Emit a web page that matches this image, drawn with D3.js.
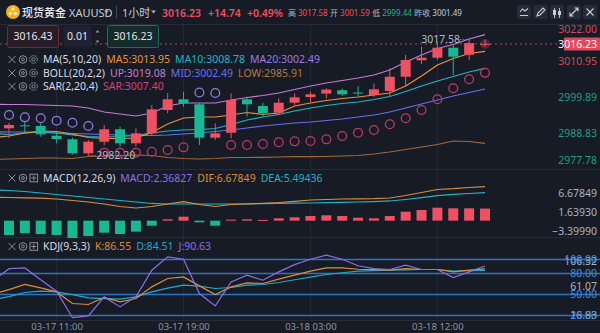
<!DOCTYPE html>
<html><head><meta charset="utf-8">
<script src="https://cdn.jsdelivr.net/npm/d3@7"></script>
<style>
body{margin:0;background:#171b26;overflow:hidden}
svg{display:block}
text{font-family:"Noto Sans","Noto Sans CJK SC",sans-serif}
</style></head>
<body><svg id="c" width="600" height="333"></svg>
<script>
// ---------- DATA ----------
const times = ["03-17 07:00","03-17 08:00","03-17 09:00","03-17 10:00","03-17 11:00","03-17 12:00","03-17 13:00","03-17 14:00","03-17 15:00","03-17 16:00","03-17 17:00","03-17 18:00","03-17 19:00","03-17 20:00","03-17 21:00","03-17 22:00","03-17 23:00","03-18 00:00","03-18 01:00","03-18 02:00","03-18 03:00","03-18 04:00","03-18 06:00","03-18 07:00","03-18 08:00","03-18 09:00","03-18 10:00","03-18 11:00","03-18 12:00","03-18 13:00","03-18 14:00","03-18 15:00"];
const open  = [2990.2,2990.50,2991.40,2991.20,2988.24,2987.14,2982.87,2986.41,2990.19,2985.92,2988.97,2996.08,2999.34,2997.82,2987.63,2989.15,2999.34,2997.30,2995.25,2998.30,3000.04,3001.08,3002.09,3001.40,3000.64,3001.87,3006.23,3011.23,3012.03,3015.08,3012.94,3016.10];
const high  = [2992.3,2992.11,2992.80,2992.02,2989.46,2987.60,2986.93,2991.50,2990.99,2990.50,2997.60,3001.17,3001.66,2998.12,2992.02,3001.17,3000.13,2998.30,2999.64,3001.17,3001.66,3002.70,3002.60,3003.40,3004.19,3008.80,3012.85,3015.38,3016.90,3015.90,3017.58,3017.50];
const low   = [2989.0,2987.54,2989.00,2987.94,2985.92,2982.50,2982.20,2985.40,2984.89,2984.89,2988.45,2995.07,2997.08,2985.40,2986.93,2987.45,2994.04,2994.04,2994.55,2997.60,2998.43,2999.64,3000.40,3000.13,3000.13,3000.13,3003.18,3010.00,3011.40,3006.75,3011.33,3015.40];
const close = [2990.9,2991.50,2991.10,2988.67,2987.23,2982.87,2986.41,2990.19,2985.92,2988.97,2996.29,2999.34,2998.12,2987.63,2988.97,2999.13,2997.82,2995.07,2998.30,2999.95,3000.86,3002.30,3000.87,3001.20,3002.39,3006.23,3011.33,3012.03,3015.08,3012.33,3016.51,3016.23];
const ma5   = [2987.7,2988.15,2989.07,2989.68,2989.52,2988.76,2987.69,2987.39,2987.39,2987.54,2989.22,2991.81,2993.64,2993.95,2993.95,2994.56,2995.32,2994.71,2995.17,2997.30,2998.21,2998.98,2999.59,3000.05,3000.66,3001.27,3003.40,3006.45,3009.81,3011.79,3013.31,3013.95];
const ma10  = [2988.9,2988.61,2989.07,2989.37,2989.07,2988.46,2988.00,2987.85,2988.00,2988.30,2989.07,2989.68,2989.98,2990.13,2990.44,2991.66,2993.03,2993.95,2994.71,2995.78,2996.69,2997.45,2998.06,2998.52,2999.28,3000.20,3001.72,3003.40,3004.93,3006.30,3007.67,3008.78];
const bollUp  = [2997.8,2997.76,2997.76,2997.60,2997.45,2997.30,2996.69,2995.47,2994.86,2994.25,2995.16,2997.30,2998.21,2998.21,2998.21,2999.13,2999.89,3000.50,3001.26,3002.33,3003.40,3004.31,3005.08,3005.84,3006.75,3008.28,3010.72,3012.85,3014.84,3016.05,3017.73,3019.08];
const bollMid = [2989.4,2989.37,2989.37,2989.22,2989.07,2988.91,2988.76,2988.61,2988.46,2988.30,2988.30,2988.46,2988.76,2989.07,2989.52,2989.98,2990.59,2991.20,2991.66,2992.12,2992.42,2992.88,2993.34,2993.95,2994.56,2995.47,2996.69,2997.91,2999.13,3000.35,3001.42,3002.49];
const bollLow = [2981.0,2981.14,2981.29,2981.44,2981.44,2981.29,2981.90,2982.05,2982.20,2982.36,2982.20,2981.59,2981.29,2981.14,2981.29,2981.59,2981.59,2981.65,2981.75,2981.84,2981.84,2981.90,2982.05,2982.20,2982.66,2983.27,2984.03,2984.80,2985.56,2986.63,2986.47,2985.91];
const sar   = [2995.2,2994.55,2993.85,2993.55,2992.82,2992.20,2991.20,2983.06,2983.06,2983.06,2983.36,2983.88,2984.70,3001.42,3001.26,2985.40,2985.40,2985.71,2986.23,2986.53,2986.62,2987.14,2988.15,2989.16,2989.98,2991.72,2993.55,2996.08,2999.34,3002.70,3005.44,3007.40];
const macdBar = [-2.6,-2.81,-2.48,-2.62,-2.81,-3.3999,-3.01,-2.36,-2.62,-2.16,-0.99,0.27,0.78,-0.32,-0.99,0.20,0.27,0.15,0.46,0.66,0.91,1.05,0.91,0.58,0.46,0.91,1.76,2.09,2.54,2.42,2.42,2.36827];
const dif   = [4.58,4.54,4.48,4.42,4.25,3.95,3.66,3.27,2.78,2.48,2.78,3.27,3.72,3.17,2.78,3.17,3.27,3.40,3.56,3.80,4.05,4.15,4.25,4.29,4.33,4.44,4.93,5.52,6.11,6.27,6.50,6.67849];
const dea   = [6.05,5.91,5.72,5.42,5.13,4.84,4.54,4.25,3.95,3.66,3.37,3.27,3.27,3.27,3.27,3.27,3.31,3.35,3.37,3.42,3.46,3.52,3.60,3.66,3.74,3.86,4.15,4.50,4.89,5.15,5.33,5.49436];
const kdjK  = [50.5,56.9,64.3,59.4,53.7,37.1,35.7,45.7,39.4,44.3,60.9,72.9,75.1,62.3,50.0,60.9,66.6,65.7,71.9,77.6,83.3,88.0,88.0,86.1,85.4,84.7,87.1,85.7,85.7,82.3,84.7,86.55];
const kdjD  = [42.5,46.9,52.9,54.7,53.7,49.7,45.1,44.0,43.3,46.6,53.7,59.0,63.3,61.9,58.6,60.0,63.3,64.3,67.1,71.1,74.7,78.6,81.1,83.3,84.0,84.7,85.1,85.7,85.7,83.3,84.0,84.51];
const kdjJ  = [70.0,86.9,88.0,71.1,54.7,16.83,19.4,46.6,32.3,46.6,84.7,103.7,100.4,51.4,33.7,68.0,77.6,70.4,82.3,92.6,100.4,106.32,100.4,91.1,87.1,85.7,91.9,85.7,85.7,74.3,82.3,90.63];
const priceTicks = [3022.00,3010.95,2999.89,2988.83,2977.78];
const macdTicks = [6.67849,1.63930,-3.39990];
const kdjTicks = [106.32,61.07,16.83];
const kdjLevels = [100,80,50,20];
const timeTicks = ["03-17 11:00","03-17 19:00","03-18 03:00","03-18 12:00"];
const lastPrice = 3016.23, prevClose = 3001.49;

// ---------- COLORS ----------
const BG="#171b26", RED="#ec5262", GREEN="#19b893", GRID="#242936";
const C_MA5="#e6943a", C_MA10="#24b3c6", C_MA20="#9a7ce6", C_UP="#c97bd6", C_MID="#6a6ef2", C_LOW="#a0683a";
const C_SAR_UP="#9479e0", C_SAR_DN="#c0386c", C_SAR_TXT="#d8407e";
const C_K="#d98e3e", C_D="#25a9c1", C_J="#8b6ee6", C_LVL="#2a74c6";

const svg = d3.select("#c");
svg.append("rect").attr("width",600).attr("height",333).attr("fill",BG);

// ---------- SCALES ----------
const x = d3.scalePoint().domain(times).range([-6.87, 485]);
const yMain = d3.scaleLinear().domain([2977.78, 3022.00]).range([170, 25]);
const yMacd = d3.scaleLinear().domain([-3.3999, 6.67849]).range([238, 186.6]);
const yKdj  = d3.scaleLinear().domain([20, 100]).range([315.5, 259.5]);
const clamp=(v,a,b)=>Math.max(a,Math.min(b,v));

const defs = svg.append("defs");
[["cm",0,25,560,145],["cmacd",0,170,560,68],["ckdj",0,238,600,82]].forEach(([id,x0,y0,w,h])=>{
  defs.append("clipPath").attr("id",id).append("rect").attr("x",x0).attr("y",y0).attr("width",w).attr("height",h);
});

// ---------- GRID / SEPARATORS ----------
const grid = svg.append("g");
timeTicks.forEach(t=>{
  grid.append("line").attr("x1",x(t)).attr("x2",x(t)).attr("y1",25).attr("y2",320).attr("stroke",GRID).attr("stroke-width",1);
});
[24.5,169.5,237.5,320.5].forEach(y=>{
  grid.append("line").attr("x1",0).attr("x2",600).attr("y1",y).attr("y2",y).attr("stroke","#262b38").attr("stroke-width",1);
});

// ---------- MAIN PANE ----------
const gm = svg.append("g").attr("clip-path","url(#cm)");
const lineMain = d3.line().x((d,i)=>x(times[i])).y(d=>yMain(d));
[[bollLow,C_LOW],[bollUp,C_UP],[bollMid,C_MID],[ma10,C_MA10],[ma5,C_MA5]].forEach(([arr,c])=>{
  gm.append("path").datum(arr).attr("d",lineMain).attr("fill","none").attr("stroke",c).attr("stroke-width",1.2);
});
gm.selectAll("circle.sar").data(sar).join("circle")
  .attr("cx",(d,i)=>x(times[i])).attr("cy",d=>yMain(d)).attr("r",4.4)
  .attr("fill","none").attr("stroke-width",1.3)
  .attr("stroke",(d,i)=> d>high[i]?C_SAR_UP:C_SAR_DN);
const cg = gm.selectAll("g.c").data(times).join("g");
cg.append("line").attr("x1",t=>x(t)).attr("x2",t=>x(t))
  .attr("y1",(t,i)=>yMain(high[i])).attr("y2",(t,i)=>yMain(low[i]))
  .attr("stroke",(t,i)=>close[i]>=open[i]?RED:GREEN).attr("stroke-width",1);
cg.append("rect").attr("x",t=>x(t)-5).attr("width",10)
  .attr("y",(t,i)=>yMain(Math.max(open[i],close[i])))
  .attr("height",(t,i)=>Math.max(1,Math.abs(yMain(open[i])-yMain(close[i]))))
  .attr("fill",(t,i)=>close[i]>=open[i]?RED:GREEN);

svg.append("line").attr("x1",0).attr("x2",564).attr("y1",yMain(lastPrice)).attr("y2",yMain(lastPrice))
  .attr("stroke","#c2404f").attr("stroke-width",1).attr("stroke-dasharray","2,3");
const li = times.length-1;
svg.append("circle").attr("cx",x(times[li])).attr("cy",yMain(lastPrice)).attr("r",5).attr("fill",RED).attr("opacity",0.25);

const hi = d3.maxIndex(high.slice(1))+1, lo = d3.minIndex(low.slice(1))+1;
svg.append("line").attr("x1",x(times[hi])-9).attr("x2",x(times[hi])-1).attr("y1",yMain(high[hi])).attr("y2",yMain(high[hi]))
  .attr("stroke","#9aa0ab").attr("stroke-dasharray","1,1.5");
svg.append("text").attr("x",x(times[hi])-9).attr("y",yMain(high[hi])+3.5).attr("text-anchor","end")
  .attr("font-size",10.5).attr("fill","#b4b8c2").text(high[hi].toFixed(2));
svg.append("line").attr("x1",x(times[lo])+1).attr("x2",x(times[lo])+8).attr("y1",yMain(low[lo])).attr("y2",yMain(low[lo]))
  .attr("stroke","#9aa0ab").attr("stroke-dasharray","1,1.5");
svg.append("text").attr("x",x(times[lo])+8).attr("y",yMain(low[lo])+3.5)
  .attr("font-size",10.5).attr("fill","#b4b8c2").text(low[lo].toFixed(2));

const pa = svg.append("g").attr("transform","translate(597,0)")
  .call(d3.axisRight(yMain).tickValues(priceTicks).tickSize(0).tickFormat(d3.format(".2f")));
pa.select(".domain").remove();
pa.selectAll(".tick").attr("transform",d=>`translate(0,${clamp(yMain(d),30,161)})`);
pa.selectAll("text").attr("x",0).attr("text-anchor","end").attr("font-size",10.5)
  .attr("font-family",null).attr("fill",d=>d>prevClose?"#cc4b58":"#1e9e80");
const ly = yMain(lastPrice);
svg.append("rect").attr("x",564).attr("y",ly-6.5).attr("width",36).attr("height",13).attr("fill","#e0485b").attr("rx",1);
svg.append("text").attr("x",597).attr("y",ly+3.8).attr("text-anchor","end").attr("font-size",10.5).attr("fill","#fff").text(lastPrice.toFixed(2));

// ---------- MACD PANE ----------
const gd = svg.append("g").attr("clip-path","url(#cmacd)");
gd.selectAll("rect").data(macdBar).join("rect")
  .attr("x",(d,i)=>x(times[i])-5).attr("width",10)
  .attr("y",d=>Math.min(yMacd(0),yMacd(d))).attr("height",d=>Math.max(1,Math.abs(yMacd(d)-yMacd(0))))
  .attr("fill",d=>d>=0?RED:GREEN);
const lineMacd = d3.line().x((d,i)=>x(times[i])).y(d=>yMacd(d));
gd.append("path").datum(dea).attr("d",lineMacd).attr("fill","none").attr("stroke",C_MA10).attr("stroke-width",1.2);
gd.append("path").datum(dif).attr("d",lineMacd).attr("fill","none").attr("stroke",C_K).attr("stroke-width",1.2);
const ma = svg.append("g").attr("transform","translate(597,0)")
  .call(d3.axisRight(yMacd).tickValues(macdTicks).tickSize(0).tickFormat(d3.format(".5f")));
ma.select(".domain").remove();
ma.selectAll(".tick").attr("transform",d=>`translate(0,${clamp(yMacd(d),194,232)})`);
ma.selectAll("text").attr("x",0).attr("text-anchor","end").attr("font-size",10.5).attr("font-family",null).attr("fill","#aeb2bc");

// ---------- KDJ PANE ----------
const gk = svg.append("g").attr("clip-path","url(#ckdj)");
kdjLevels.forEach(v=>{
  gk.append("line").attr("x1",0).attr("x2",600).attr("y1",yKdj(v)).attr("y2",yKdj(v)).attr("stroke",C_LVL).attr("stroke-width",1.3);
});
const lineK = d3.line().x((d,i)=>x(times[i])).y(d=>yKdj(d));
[[kdjD,C_D],[kdjK,C_K],[kdjJ,C_J]].forEach(([arr,c])=>{
  gk.append("path").datum(arr).attr("d",lineK).attr("fill","none").attr("stroke",c).attr("stroke-width",1.2);
});
const ka = svg.append("g").attr("transform","translate(597,0)")
  .call(d3.axisRight(yKdj).tickValues(kdjTicks).tickSize(0).tickFormat(d3.format(".2f")));
ka.select(".domain").remove();
ka.selectAll(".tick").attr("transform",d=>`translate(0,${clamp(yKdj(d),262,316)})`);
ka.selectAll("text").attr("x",0).attr("text-anchor","end").attr("font-size",10.5).attr("font-family",null).attr("fill","#aeb2bc");
kdjLevels.forEach(v=>{
  svg.append("text").attr("x",597).attr("y",yKdj(v)+3.8).attr("text-anchor","end").attr("font-size",10.5)
    .attr("fill","#3a8ee0").text(v.toFixed(2));
});

// ---------- TIME AXIS ----------
const ta = svg.append("g").attr("transform","translate(0,320)")
  .call(d3.axisBottom(x).tickValues(timeTicks).tickSize(0));
ta.select(".domain").remove();
ta.selectAll("text").attr("y",10).attr("dy","0").attr("font-size",9.5).attr("font-family",null).attr("fill","#8e939e");

// ---------- LEGENDS ----------
function icons(y, third){
  const g = svg.append("g").attr("stroke","#8a8f9a").attr("fill","none").attr("stroke-width",1);
  g.append("path").attr("d",`M8.5,${y-3.5}L15.5,${y+3.5}M15.5,${y-3.5}L8.5,${y+3.5}`);
  g.append("circle").attr("cx",23).attr("cy",y).attr("r",3.8);
  g.append("circle").attr("cx",23).attr("cy",y).attr("r",1.4);
  if(third==="gear"){
    g.append("circle").attr("cx",33.5).attr("cy",y).attr("r",3.8).attr("stroke-dasharray","2,1");
    g.append("circle").attr("cx",33.5).attr("cy",y).attr("r",1.6);
  } else {
    g.append("rect").attr("x",30).attr("y",y-3.8).attr("width",7.6).attr("height",7.6);
    g.append("path").attr("d",`M33.8,${y-2.5}V${y+2.5}M31.3,${y}H36.3`);
  }
}
function legend(y, items){
  const t = svg.append("text").attr("x",43).attr("y",y+3.7).attr("font-size",10.5);
  items.forEach(([s,c],k)=>{ t.append("tspan").attr("fill",c).attr("dx",k?5:0).text(s); });
}
icons(59.5,"gear"); legend(59.5,[["MA(5,10,20)","#d7dae0"],["MA5:"+ma5[li].toFixed(2),C_MA5],["MA10:"+ma10[li].toFixed(2),C_MA10],["MA20:"+bollMid[li].toFixed(2),C_MA20]]);
icons(73,"gear"); legend(73,[["BOLL(20,2,2)","#d7dae0"],["UP:"+bollUp[li].toFixed(2),C_UP],["MID:"+bollMid[li].toFixed(2),C_MID],["LOW:"+bollLow[li].toFixed(2),"#b8763e"]]);
icons(86.5,"gear"); legend(86.5,[["SAR(2,20,4)","#d7dae0"],["SAR:"+sar[li].toFixed(2),C_SAR_TXT]]);
icons(178,"box"); legend(178,[["MACD(12,26,9)","#d7dae0"],["MACD:"+macdBar[li].toFixed(5),"#8f70e0"],["DIF:"+dif[li].toFixed(5),C_K],["DEA:"+dea[li].toFixed(5),C_MA10]]);
icons(246.5,"box"); legend(246.5,[["KDJ(9,3,3)","#d7dae0"],["K:"+kdjK[li].toFixed(2),C_K],["D:"+kdjD[li].toFixed(2),C_D],["J:"+kdjJ[li].toFixed(2),C_J]]);

// ---------- HEADER ----------
const hd = svg.append("g");
hd.append("circle").attr("cx",13).attr("cy",12).attr("r",7).attr("fill","#f2b01e");
[[13,9],[10.5,13.5],[15.5,13.5]].forEach(([cx,cy])=>hd.append("circle").attr("cx",cx).attr("cy",cy).attr("r",1.8).attr("fill","#fde9a8"));
const ht = hd.append("text").attr("x",22).attr("y",16.5).attr("font-size",11);
ht.append("tspan").attr("fill","#e8eaee").attr("font-weight",500).text("现货黄金");
ht.append("tspan").attr("fill","#c9ccd3").attr("dx",3).text("XAUUSD");
hd.append("path").attr("d","M104,10.5h5l-2.5,3z").attr("fill","#aab0ba");
hd.append("line").attr("x1",116.5).attr("x2",116.5).attr("y1",6).attr("y2",18).attr("stroke","#454b59");
hd.append("text").attr("x",122).attr("y",16.5).attr("font-size",11).attr("fill","#c9ccd3").text("1小时");
hd.append("path").attr("d","M151,10.5h5l-2.5,3z").attr("fill","#aab0ba");
const h2 = hd.append("text").attr("x",162).attr("y",16.5).attr("font-size",10.5).attr("font-weight",600).attr("fill","#ef4f5f");
h2.append("tspan").text("3016.23"); h2.append("tspan").attr("dx",7).text("+14.74"); h2.append("tspan").attr("dx",6).text("+0.49%");
const h3 = hd.append("text").attr("x",288).attr("y",15.5).attr("font-size",8);
[["高","#b8bcc6",0],["3017.58","#ef4f5f",2],["开","#b8bcc6",2.5],["3001.59","#ef4f5f",2],["低","#b8bcc6",2.5],["2999.44","#1eb48e",2],["昨收","#b8bcc6",2.5],["3001.49","#c9ccd3",2]]
  .forEach(([s,c,dx])=>h3.append("tspan").attr("fill",c).attr("dx",dx).text(s));
[517,533.5,550,567,583].forEach((bx,k)=>{
  hd.append("rect").attr("x",bx).attr("y",5).attr("width",14).attr("height",14).attr("rx",2).attr("fill","#262b3a");
});
const ic = hd.append("g").attr("stroke","#c8ccd4").attr("fill","none").attr("stroke-width",1.1);
ic.append("path").attr("d","M520,15.5h8M520,12l2.5-3l2.5,2l3-2.5");
ic.append("path").attr("d","M537,16l1-3l5-5l2,2l-5,5z");
ic.append("path").attr("d","M554.5,8v10M559.5,8v10").attr("stroke-width",0.9);
hd.append("rect").attr("x",553).attr("y",10).attr("width",3).attr("height",5).attr("fill","#c8ccd4");
hd.append("rect").attr("x",558).attr("y",11).attr("width",3).attr("height",4).attr("fill","#c8ccd4");
ic.append("path").attr("d","M570,16l8-8M574.5,8h3.5v3.5M573.5,16h-3.5v-3.5");
ic.append("path").attr("d","M586.5,8.5l7,7M593.5,8.5l-7,7");

hd.append("rect").attr("x",7.5).attr("y",25.5).attr("width",51).attr("height",22).attr("rx",2).attr("fill","#2a1c26").attr("stroke","#6e2c3a");
hd.append("text").attr("x",33).attr("y",40).attr("text-anchor","middle").attr("font-size",10.5).attr("fill","#e4e6ea").text("3016.43");
hd.append("rect").attr("x",63.5).attr("y",26).attr("width",28).attr("height",21).attr("rx",2).attr("fill","#1f2331");
hd.append("text").attr("x",77.5).attr("y",40).attr("text-anchor","middle").attr("font-size",10.5).attr("fill","#e4e6ea").text("0.01");
hd.append("path").attr("d","M95.5,32.5l2,-2.5l2,2.5z M95.5,40.5l2,2.5l2,-2.5z").attr("fill","#8a8f9a");
hd.append("rect").attr("x",107.5).attr("y",25.5).attr("width",51).attr("height",22).attr("rx",2).attr("fill","#142b2a").attr("stroke","#1f6b5c");
hd.append("text").attr("x",133).attr("y",40).attr("text-anchor","middle").attr("font-size",10.5).attr("fill","#e4e6ea").text("3016.23");
</script></body></html>
